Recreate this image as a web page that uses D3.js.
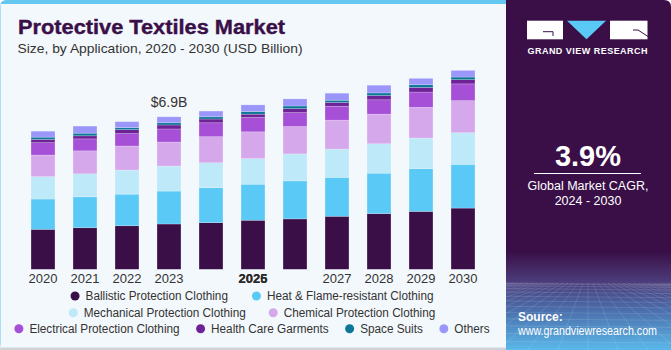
<!DOCTYPE html>
<html>
<head>
<meta charset="utf-8">
<script src="https://cdn.jsdelivr.net/npm/d3@7"></script>
<style>
  body { margin: 0; background: #ffffff; }
  svg { display: block; font-family: "Liberation Sans", Arial, sans-serif; }
</style>
</head>
<body>
<div id="chart"></div>
<script>
"use strict";

// chart values (USD Billion)
const years = ["2020", "2021", "2022", "2023", "2024", "2025", "2026", "2027", "2028", "2029", "2030"];
const seriesNames = ["Ballistic Protection Clothing", "Heat & Flame-resistant Clothing",
  "Mechanical Protection Clothing", "Chemical Protection Clothing",
  "Electrical Protection Clothing", "Health Care Garments", "Space Suits", "Others"];
const ballistic  = [1.81, 1.88, 1.97, 2.05, 2.11, 2.22, 2.28, 2.40, 2.52, 2.62, 2.77];
const heatFlame  = [1.37, 1.40, 1.43, 1.49, 1.58, 1.63, 1.72, 1.76, 1.83, 1.93, 1.98];
const mechanical = [1.01, 1.04, 1.09, 1.13, 1.13, 1.16, 1.22, 1.28, 1.33, 1.39, 1.43];
const chemical   = [0.98, 1.04, 1.09, 1.09, 1.18, 1.21, 1.24, 1.31, 1.34, 1.39, 1.45];
const electrical = [0.56, 0.54, 0.56, 0.59, 0.63, 0.65, 0.63, 0.63, 0.65, 0.69, 0.76];
const healthCare = [0.15, 0.14, 0.18, 0.18, 0.17, 0.15, 0.18, 0.17, 0.19, 0.21, 0.19];
const spaceSuits = [0.10, 0.12, 0.09, 0.10, 0.10, 0.12, 0.12, 0.10, 0.12, 0.12, 0.12];
const others     = [0.27, 0.32, 0.27, 0.27, 0.26, 0.30, 0.32, 0.32, 0.35, 0.29, 0.30];
const seriesValues = [ballistic, heatFlame, mechanical, chemical, electrical, healthCare, spaceSuits, others];
// tick labels: 2024 and 2026 are not shown; 2025 slot has two labels printed on top of each other
const tickLabels = ["2020", "2021", "2022", "2023", "", "2025", "", "2027", "2028", "2029", "2030"];
const annotation = { year: "2023", text: "$6.9B" };
const cagrValue = "3.9%";
const cagrText = ["Global Market CAGR,", "2024 - 2030"];

const colors = ["#3a0f48", "#5bc9f6", "#bde9f9", "#d5a8ec", "#a64fd7", "#6e2297", "#0e7798", "#9b97fa"];

function init() {
    apply();
}
window.onload = init;

function apply() {
    const W = 671, H = 350;
    const svg = d3.select("#chart").append("svg")
        .attr("width", W).attr("height", H);

    const defs = svg.append("defs");

    // ---- left panel background
    svg.append("rect").attr("x", 0).attr("y", 0).attr("width", 520).attr("height", 350)
        .attr("rx", 6).attr("fill", "#64c7ef");
    svg.append("rect").attr("x", 0.5).attr("y", 4).attr("width", 519).attr("height", 344)
        .attr("fill", "#f3f8fc");
    svg.append("rect").attr("x", 0).attr("y", 347.5).attr("width", 510).attr("height", 2.5)
        .attr("fill", "#cfd3d8");

    // ---- title
    svg.append("text").attr("x", 18).attr("y", 34)
        .attr("font-size", 20).attr("font-weight", 900).attr("fill", "#3a0f48")
        .attr("stroke", "#3a0f48").attr("stroke-width", 0.4)
        .attr("textLength", 267).attr("lengthAdjust", "spacingAndGlyphs")
        .text("Protective Textiles Market");
    svg.append("text").attr("x", 17.5).attr("y", 53)
        .attr("font-size", 13.5).attr("fill", "#333333")
        .attr("textLength", 285).attr("lengthAdjust", "spacingAndGlyphs")
        .text("Size, by Application, 2020 - 2030 (USD Billion)");

    // ---- scales
    const x = d3.scaleBand().domain(years).range([22, 484])
        .paddingInner(0.43).paddingOuter(0.215);
    const y = d3.scaleLinear().domain([0, 9]).range([269.3, 269.3 - 9 * 22.1]);

    const table = years.map((yr, i) => {
        const row = { year: yr };
        seriesNames.forEach((s, j) => { row[s] = seriesValues[j][i]; });
        return row;
    });
    const stacked = d3.stack().keys(seriesNames)(table);

    const bars = svg.append("g");
    bars.selectAll("g")
        .data(stacked)
        .enter().append("g")
        .attr("fill", (d, i) => colors[i])
        .selectAll("rect")
        .data(d => d)
        .enter().append("rect")
        .attr("x", d => x(d.data.year))
        .attr("y", d => y(d[1]))
        .attr("width", x.bandwidth())
        .attr("height", d => y(d[0]) - y(d[1]))
        .attr("stroke", "rgba(255,255,255,0.35)")
        .attr("stroke-width", 0.6);

    // value label
    const last = stacked[stacked.length - 1];
    const annIdx = years.indexOf(annotation.year);
    svg.append("text")
        .attr("x", x(annotation.year) + x.bandwidth() / 2)
        .attr("y", y(last[annIdx][1]) - 9.5)
        .attr("text-anchor", "middle").attr("font-size", 14).attr("fill", "#333333")
        .text(annotation.text);

    // x axis labels
    const xAxis = svg.append("g")
        .attr("transform", "translate(0,269.3)")
        .call(d3.axisBottom(x).tickSize(0).tickPadding(4)
            .tickFormat((d, i) => tickLabels[i]));
    xAxis.select(".domain").remove();
    xAxis.selectAll("text").attr("font-size", 13).attr("fill", "#333333")
        .attr("font-family", "Liberation Sans, Arial, sans-serif")
        .attr("dy", "0.71em");
    // the overprinted label on the 2025 slot
    const over = xAxis.selectAll(".tick").filter(d => d === "2025");
    over.select("text").attr("font-weight", "bold").attr("fill", "#2a2a2a");
    over.append("text").attr("y", 4).attr("dy", "0.71em")
        .attr("font-size", 13).attr("font-weight", "bold").attr("fill", "#2a2a2a")
        .attr("font-family", "Liberation Sans, Arial, sans-serif")
        .attr("text-anchor", "middle")
        .text("2026");

    // ---- legend
    const rows = [[0, 1], [2, 3], [4, 5, 6, 7]];
    const rowY = [296, 312.7, 328.7];
    const rowGap = [24, 23, 16.5];
    const legend = svg.append("g");
    rows.forEach((row, r) => {
        const g = legend.append("g");
        let cx = 0;
        row.forEach((idx, k) => {
            if (k > 0) cx += rowGap[r];
            g.append("circle").attr("cx", cx + 4.5).attr("cy", rowY[r]).attr("r", 4.5)
                .attr("fill", colors[idx]);
            const t = g.append("text").attr("x", cx + 15).attr("y", rowY[r] + 4.3)
                .attr("font-size", 12.5).attr("fill", "#333333")
                .text(seriesNames[idx]);
            const w = t.node().getComputedTextLength() * 0.94;
            t.attr("textLength", w).attr("lengthAdjust", "spacingAndGlyphs");
            cx += 15 + w;
        });
        g.attr("transform", `translate(${252 - cx / 2},0)`);
    });

    // ---- right panel
    const px = 506, pw = W - px;
    const grad = defs.append("linearGradient").attr("id", "pgrad")
        .attr("x1", 0).attr("y1", 0).attr("x2", 0).attr("y2", 1);
    grad.append("stop").attr("offset", "0%").attr("stop-color", "#3a0f48");
    grad.append("stop").attr("offset", "72%").attr("stop-color", "#3a0f48");
    grad.append("stop").attr("offset", "80%").attr("stop-color", "#4b3a78");
    grad.append("stop").attr("offset", "88%").attr("stop-color", "#4a6aa8");
    grad.append("stop").attr("offset", "100%").attr("stop-color", "#5ab8ea");
    const clip = defs.append("clipPath").attr("id", "pclip");
    clip.append("path").attr("d",
        `M${px},0 H${W - 7} Q${W},0 ${W},7 V${H} H${px} Z`);
    const panel = svg.append("g").attr("clip-path", "url(#pclip)");
    panel.append("rect").attr("x", px).attr("y", 0).attr("width", pw).attr("height", H)
        .attr("fill", "url(#pgrad)");

    // perspective mesh
    const mesh = panel.append("g").attr("stroke", "#ffffff").attr("stroke-opacity", 0.2)
        .attr("stroke-width", 0.6).attr("fill", "none");
    const horizon = 283, vx = 588;
    for (let k = 0; k < 14; k++) {
        const yy = horizon + 67 * Math.pow(k / 13, 1.7);
        mesh.append("line").attr("x1", px).attr("x2", W).attr("y1", yy).attr("y2", yy + 1.5);
    }
    for (let k = -16; k <= 16; k++) {
        mesh.append("line").attr("x1", vx + k * 5).attr("y1", horizon)
            .attr("x2", vx + k * 30).attr("y2", H);
    }

    // logo
    const logo = svg.append("g");
    logo.append("rect").attr("x", 527).attr("y", 20.7).attr("width", 36).attr("height", 18.6).attr("fill", "#ffffff");
    logo.append("path").attr("d", "M543,31.7 H553 V36").attr("stroke", "#3a0f48").attr("stroke-width", 1).attr("fill", "none");
    logo.append("path").attr("d", "M567,20.7 L606,20.7 L586.5,39.3 Z").attr("fill", "#5bc9f6");
    logo.append("rect").attr("x", 610).attr("y", 20.7).attr("width", 37.5).attr("height", 18.6).attr("fill", "#ffffff");
    logo.append("path").attr("d", "M633,30 H638 L648,36.5").attr("stroke", "#3a0f48").attr("stroke-width", 1).attr("fill", "none");
    logo.append("text").attr("x", 587.5).attr("y", 53.5).attr("text-anchor", "middle")
        .attr("font-size", 9).attr("font-weight", "bold").attr("fill", "#ffffff")
        .attr("textLength", 120).attr("lengthAdjust", "spacing")
        .text("GRAND VIEW RESEARCH");

    // CAGR
    svg.append("text").attr("x", 588).attr("y", 166).attr("text-anchor", "middle")
        .attr("font-size", 29).attr("font-weight", "bold").attr("fill", "#ffffff")
        .text(cagrValue);
    svg.append("line").attr("x1", 534).attr("x2", 641).attr("y1", 173.5).attr("y2", 173.5)
        .attr("stroke", "#ffffff").attr("stroke-width", 1);
    cagrText.forEach((t, i) => {
        svg.append("text").attr("x", 588).attr("y", 189.5 + i * 15).attr("text-anchor", "middle")
            .attr("font-size", 12.5).attr("fill", "#ffffff").text(t);
    });

    // source
    svg.append("text").attr("x", 518).attr("y", 320.5)
        .attr("font-size", 12).attr("font-weight", "bold").attr("fill", "#ffffff")
        .text("Source:");
    svg.append("text").attr("x", 518).attr("y", 335)
        .attr("font-size", 12).attr("fill", "#ffffff")
        .attr("textLength", 139).attr("lengthAdjust", "spacingAndGlyphs")
        .text("www.grandviewresearch.com");
}
</script>
</body>
</html>
